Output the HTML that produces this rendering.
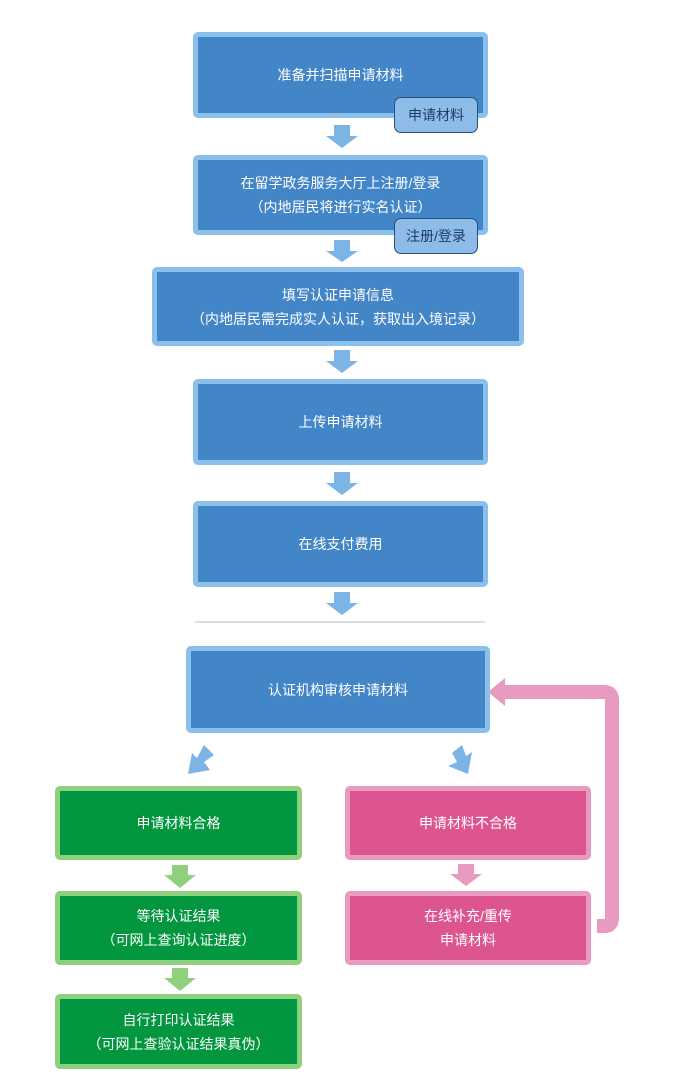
<!DOCTYPE html>
<html><head><meta charset="utf-8"><style>
body{margin:0;width:694px;height:1085px;background:#fff;position:relative;overflow:hidden;font-family:"Liberation Sans","Noto Sans CJK SC",sans-serif;}
.b{position:absolute;box-sizing:border-box;border:5px solid #8cc0ec;border-radius:5px;background:#4386c8;color:#fff;font-size:14px;line-height:24px;display:flex;align-items:center;justify-content:center;text-align:center;}
.g{background:#02963f;border-color:#8fd07e;}
.p{background:#dc5590;border-color:#e89ac0;}
.t{position:absolute;box-sizing:border-box;background:#8dbce8;border:1.5px solid #2a4f78;border-radius:7px;color:#1d3c66;font-size:14px;display:flex;align-items:center;justify-content:center;}
svg{position:absolute;left:0;top:0;}
</style></head><body>
<svg width="694" height="1085">
<g fill="#7db4e6">
<polygon points="334,125 350,125 350,136 358,136 342,148 326,136 334,136"/>
<polygon points="334,240 350,240 350,251 358,251 342,262 326,251 334,251"/>
<polygon points="334,350 350,350 350,361 358,361 342,373 326,361 334,361"/>
<polygon points="334,472 350,472 350,483 358,483 342,495 326,483 334,483"/>
<polygon points="334,592 350,592 350,603 358,603 342,615 326,603 334,603"/>
<polygon points="204,745 214,755 204,762 210,770 188,774 192,753 197,758"/>
<polygon points="452,753 462,745 466,756 472,752 468,774 448,766 457,762"/>
</g>
<line x1="195" y1="622" x2="485" y2="622" stroke="#bbb" stroke-width="1"/>
<g fill="#8fd07e">
<polygon points="172,865 188,865 188,875 196,875 180,888 164,875 172,875"/>
<polygon points="172,968 188,968 188,978 196,978 180,991 164,978 172,978"/>
</g>
<polygon fill="#e89ac0" points="458,864 474,864 474,874 482,874 466,886 450,874 458,874"/>
<path d="M597,926 H605 Q612,926 612,918 V700 Q612,692 604,692 H500" fill="none" stroke="#e89ac0" stroke-width="14"/>
<polygon fill="#e89ac0" points="488,692 505,678 505,706"/>
</svg>
<div class="b" style="left:193px;top:32px;width:295px;height:86px;">准备并扫描申请材料</div>
<div class="t" style="left:394px;top:97px;width:84px;height:36px;">申请材料</div>
<div class="b" style="left:193px;top:155px;width:295px;height:80px;">在留学政务服务大厅上注册/登录<br>（内地居民将进行实名认证）</div>
<div class="t" style="left:394px;top:218px;width:84px;height:36px;">注册/登录</div>
<div class="b" style="left:152px;top:267px;width:372px;height:79px;">填写认证申请信息<br>（内地居民需完成实人认证，获取出入境记录）</div>
<div class="b" style="left:193px;top:379px;width:295px;height:86px;">上传申请材料</div>
<div class="b" style="left:193px;top:501px;width:295px;height:86px;">在线支付费用</div>
<div class="b" style="left:186px;top:646px;width:304px;height:87px;">认证机构审核申请材料</div>
<div class="b g" style="left:55px;top:786px;width:247px;height:74px;">申请材料合格</div>
<div class="b g" style="left:55px;top:891px;width:247px;height:74px;">等待认证结果<br>（可网上查询认证进度）</div>
<div class="b g" style="left:55px;top:994px;width:247px;height:75px;">自行打印认证结果<br>（可网上查验认证结果真伪）</div>
<div class="b p" style="left:345px;top:786px;width:246px;height:74px;">申请材料不合格</div>
<div class="b p" style="left:345px;top:891px;width:246px;height:74px;">在线补充/重传<br>申请材料</div>
</body></html>
